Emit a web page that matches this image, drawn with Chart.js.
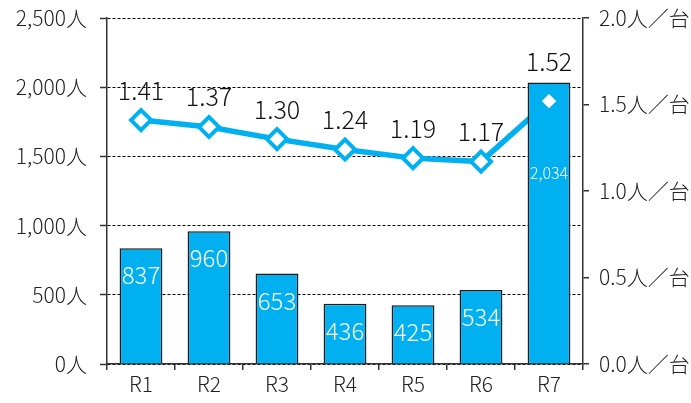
<!DOCTYPE html>
<html>
<head>
<meta charset="utf-8">
<script src="https://cdn.jsdelivr.net/npm/chart.js@4"></script>
<style>
  html, body { margin: 0; padding: 0; background: #fff; }
  #wrap { width: 691px; height: 403px; }
</style>
</head>
<body>
<div id="wrap"><canvas id="chart"></canvas></div>
<script>
// ----- data -----
const labels = ["R1", "R2", "R3", "R4", "R5", "R6", "R7"];
const people = [837, 960, 653, 436, 425, 534, 2034];   // 人 (left axis)
const ratio = [1.41, 1.37, 1.30, 1.24, 1.19, 1.17, 1.52]; // 人/台 (right axis)
const leftMax = 2500, leftStep = 500;
const rightMax = 2.0, rightStep = 0.5;

const FONT = '"Noto Sans CJK JP", "Noto Sans", sans-serif';
const BLUE = "#00B0F0";
const AXIS = "#333";

// last point sits on top of the R7 bar -> redraw its marker above the bars
const lastPoint = ratio.map((v, i) => (i === ratio.length - 1 ? v : null));

// ----- value labels (no datalabels plugin offline) -----
const valueLabels = {
  id: "valueLabels",
  afterDatasetsDraw(chart) {
    const ctx = chart.ctx;
    const bars = chart.getDatasetMeta(0).data;
    const pts = chart.getDatasetMeta(1).data;
    ctx.save();
    ctx.textAlign = "center";
    ctx.textBaseline = "middle";

    bars.forEach((b, i) => {
      const last = i === bars.length - 1;
      ctx.fillStyle = "#fff";
      ctx.font = "300 " + (last ? "16px " : "24px ") + FONT;
      const y = last ? pts[i].y + 72 : b.y + 27;
      ctx.fillText(people[i].toLocaleString("en-US"), b.x, y);
    });

    ctx.fillStyle = "#111";
    ctx.font = "300 25px " + FONT;
    pts.forEach((p, i) => {
      const y = Math.min(p.y - 30, bars[i].y - 21);
      ctx.fillText(ratio[i].toFixed(2), p.x, y);
    });
    ctx.restore();
  }
};

const marker = {
  pointStyle: "rectRot",
  pointRadius: 10,
  pointHoverRadius: 10,
  pointBorderWidth: 4,
  pointBackgroundColor: "#fff",
  pointBorderColor: BLUE
};

const tickFont = { family: FONT, size: 21, weight: 300 };

// fixed axis boxes; drop the extra top/bottom padding that tick padding adds
function fixSide(width) {
  return s => { s.width = width; s.paddingTop = 0; s.paddingBottom = 0; };
}

new Chart(document.getElementById("chart"), {
  data: {
    labels,
    datasets: [
      {
        type: "bar",
        data: people,
        backgroundColor: BLUE,
        borderColor: "#1a1a1a",
        borderWidth: 1.5,
        barPercentage: 0.63,
        categoryPercentage: 1,
        yAxisID: "y",
        order: 0
      },
      Object.assign({
        type: "line",
        data: ratio,
        borderColor: BLUE,
        borderWidth: 5.5,
        tension: 0,
        yAxisID: "y2",
        order: 1
      }, marker),
      Object.assign({
        type: "line",
        data: lastPoint,
        showLine: false,
        yAxisID: "y2",
        order: -1
      }, marker)
    ]
  },
  options: {
    responsive: true,
    maintainAspectRatio: false,
    animation: false,
    layout: { padding: { top: 18, right: 0, bottom: 0, left: 0 } },
    plugins: {
      legend: { display: false },
      tooltip: { enabled: false }
    },
    scales: {
      x: {
        grid: { offset: true, drawOnChartArea: false, tickLength: 6, color: AXIS, lineWidth: 1.5 },
        border: { color: AXIS, width: 1.5 },
        ticks: { color: "#222", font: tickFont, padding: 1 },
        afterFit: s => { s.height = 39; }
      },
      y: {
        position: "left",
        min: 0,
        max: leftMax,
        grid: { color: "#000", lineWidth: 1, tickLength: 7, tickColor: AXIS, tickWidth: 1.5 },
        border: { color: AXIS, width: 1.5, dash: [3, 2] },
        ticks: {
          stepSize: leftStep,
          color: "#222",
          font: tickFont,
          padding: 13,
          callback: v => v.toLocaleString("en-US") + "人"
        },
        afterFit: fixSide(107)
      },
      y2: {
        position: "right",
        min: 0,
        max: rightMax,
        grid: { drawOnChartArea: false, tickLength: 6, color: AXIS, lineWidth: 1.5 },
        border: { color: AXIS, width: 1.5 },
        ticks: {
          stepSize: rightStep,
          color: "#222",
          font: tickFont,
          padding: 10,
          callback: v => v.toFixed(1) + "人／台"
        },
        afterFit: fixSide(108)
      }
    }
  },
  plugins: [valueLabels]
});
</script>
</body>
</html>
